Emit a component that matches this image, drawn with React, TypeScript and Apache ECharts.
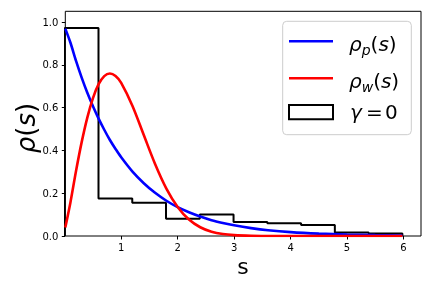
import React, { useEffect, useRef } from "react";
import * as echarts from "echarts";

// sample points
const sValues = [0.01, 0.1, 0.2, 0.3, 0.4, 0.5, 0.6, 0.7, 0.8, 0.9, 1.0, 1.2, 1.4, 1.6, 1.8, 2.0, 2.2, 2.4, 2.6, 2.8, 3.0, 3.3, 3.6, 4.0, 4.5, 5.0, 5.5, 5.98];
const poisson = [0.97, 0.905, 0.819, 0.741, 0.67, 0.607, 0.549, 0.497, 0.449, 0.407, 0.368, 0.301, 0.247, 0.202, 0.165, 0.135, 0.111, 0.091, 0.074, 0.061, 0.05, 0.037, 0.027, 0.018, 0.011, 0.0067, 0.0041, 0.0026];
const wigner = [0.04, 0.156, 0.304, 0.439, 0.554, 0.645, 0.71, 0.748, 0.76, 0.748, 0.716, 0.608, 0.472, 0.337, 0.222, 0.136, 0.077, 0.041, 0.02, 0.009, 0.004, 0.001, 0.0002, 0, 0, 0, 0, 0];

// histogram (gamma = 0)
const binEdges = [0, 0.598, 1.196, 1.794, 2.392, 2.99, 3.588, 4.186, 4.784, 5.382, 5.98];
const binHeights = [0.973, 0.175, 0.156, 0.081, 0.1, 0.066, 0.06, 0.052, 0.016, 0.012];

const xTicks = [1, 2, 3, 4, 5, 6];
const yTicks = [0, 0.2, 0.4, 0.6, 0.8, 1.0];

const FONT = "DejaVu Sans";

const RICH = {
  i: { fontFamily: FONT, fontStyle: "italic", fontSize: 20, fill: "#000", verticalAlign: "middle" },
  n: { fontFamily: FONT, fontStyle: "normal", fontSize: 20, fill: "#000", verticalAlign: "middle" },
  sub: {
    fontFamily: FONT,
    fontStyle: "italic",
    fontSize: 14,
    fill: "#000",
    verticalAlign: "top",
    padding: [11, 0, 0, 0],
  },
};

export default function App() {
  const ref = useRef<HTMLDivElement>(null);
  useEffect(() => {
    if (!ref.current) return;
    const chart = echarts.init(ref.current, null, { renderer: "svg" });

    const histData: number[][] = [[binEdges[0], 0]];
    binHeights.forEach((h, i) => {
      histData.push([binEdges[i], h]);
      histData.push([binEdges[i + 1], h]);
    });
    histData.push([binEdges[binEdges.length - 1], 0]);

    const italic = { fontFamily: FONT, fontStyle: "italic" as const, fill: "#000" };
    const upright = { fontFamily: FONT, fontStyle: "normal" as const, fill: "#000" };

    const legendText = (x: number, y: number, text: string, size: number, st: any) => ({
      type: "text",
      x,
      y,
      z: 101,
      style: { text, fontSize: size, align: "left", verticalAlign: "middle", ...st },
    });
    const richText = (x: number, y: number, text: string) => ({
      type: "text",
      x,
      y,
      z: 101,
      style: { text, align: "left", verticalAlign: "middle", rich: RICH },
    });

    chart.setOption({
      animation: false,
      grid: {
        left: 65.3,
        right: 11,
        top: 11.3,
        bottom: 52,
        show: true,
        borderColor: "#000",
        borderWidth: 1,
        backgroundColor: "transparent",
      },
      xAxis: {
        type: "value",
        min: 0.01,
        max: 6.31,
        axisLine: { show: false },
        splitLine: { show: false },
        axisTick: { show: true, length: 3.5, lineStyle: { color: "#000", width: 1 }, customValues: xTicks },
        axisLabel: {
          customValues: xTicks,
          fontSize: 10,
          fontFamily: FONT,
          color: "#000",
          margin: 6,
          formatter: (v: number) => String(v),
        },
      },
      yAxis: {
        type: "value",
        min: 0,
        max: 1.051,
        axisLine: { show: false },
        splitLine: { show: false },
        axisTick: { show: true, length: 3.5, lineStyle: { color: "#000", width: 1 }, customValues: yTicks },
        axisLabel: {
          customValues: yTicks,
          fontSize: 10,
          fontFamily: FONT,
          color: "#000",
          margin: 7,
          formatter: (v: number) => v.toFixed(1),
        },
      },
      series: [
        {
          type: "line",
          data: histData,
          symbol: "none",
          lineStyle: { color: "#000", width: 2 },
          z: 2,
        },
        {
          type: "line",
          data: sValues.map((s, i) => [s, poisson[i]]),
          symbol: "none",
          smooth: 0.3,
          lineStyle: { color: "#0000ff", width: 2.6 },
          z: 3,
        },
        {
          type: "line",
          data: sValues.map((s, i) => [s, wigner[i]]),
          symbol: "none",
          smooth: 0.3,
          lineStyle: { color: "#ff0000", width: 2.6 },
          z: 4,
        },
      ],
      graphic: [
        // axis labels
        {
          type: "text",
          x: 26,
          y: 128,
          rotation: Math.PI / 2,
          style: {
            text: "{i|ρ}{n|(}{i|s}{n|)}",
            align: "center",
            verticalAlign: "middle",
            rich: {
              i: { fontFamily: FONT, fontStyle: "italic", fontSize: 26, fill: "#000" },
              n: { fontFamily: FONT, fontStyle: "normal", fontSize: 26, fill: "#000" },
            },
          },
        },
        {
          type: "text",
          x: 243,
          y: 266,
          style: { text: "s", fontFamily: FONT, fontSize: 22, fill: "#000", align: "center", verticalAlign: "middle" },
        },
        // legend frame
        {
          type: "rect",
          z: 100,
          shape: { x: 282.7, y: 21.3, width: 128.6, height: 113.4, r: 4 },
          style: { fill: "rgba(255,255,255,0.8)", stroke: "#cccccc", lineWidth: 1 },
        },
        {
          type: "line",
          z: 101,
          shape: { x1: 289, y1: 41.3, x2: 333, y2: 41.3 },
          style: { stroke: "#0000ff", lineWidth: 2.6 },
        },
        {
          type: "line",
          z: 101,
          shape: { x1: 289, y1: 78.3, x2: 333, y2: 78.3 },
          style: { stroke: "#ff0000", lineWidth: 2.6 },
        },
        {
          type: "rect",
          z: 101,
          shape: { x: 289, y: 105, width: 44, height: 14.3 },
          style: { fill: "none", stroke: "#000", lineWidth: 2 },
        },
        richText(349, 44, "{i|ρ}{sub|p}{n|(}{i|s}{n|)}"),
        richText(349, 81, "{i|ρ}{sub|w}{n|(}{i|s}{n|)}"),
        legendText(350, 112, "γ", 20, italic),
        legendText(366, 112, "=", 20, upright),
        legendText(385, 112, "0", 20, upright),
      ],
    });
    return () => chart.dispose();
  }, []);
  return <div ref={ref} style={{ position: "fixed", left: 0, top: 0, width: 432, height: 288 }} />;
}
